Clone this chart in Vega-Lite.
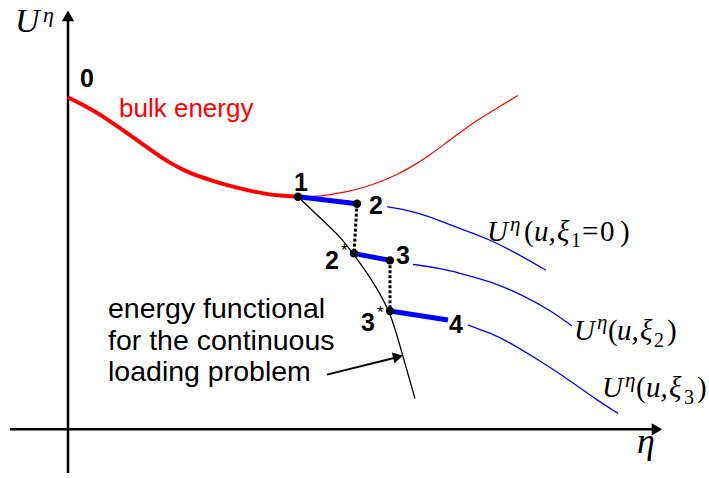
{
  "$schema": "https://vega.github.io/schema/vega-lite/v6.json",
  "width": 709,
  "height": 478,
  "padding": 0,
  "autosize": {"type": "fit", "contains": "padding"},
  "background": "white",
  "config": {"view": {"stroke": null}},
  "datasets": {
    "axes": [
      {"s": "h", "i": 0, "x": 10, "y": 432}, {"s": "h", "i": 1, "x": 655, "y": 432},
      {"s": "v", "i": 0, "x": 68, "y": 476}, {"s": "v", "i": 1, "x": 68, "y": 20}
    ],
    "redThick": [
      {"x": 68, "y": 98}, {"x": 84, "y": 106}, {"x": 100, "y": 115}, {"x": 120, "y": 129}, {"x": 140, "y": 143},
      {"x": 155, "y": 154}, {"x": 170, "y": 164}, {"x": 185, "y": 172}, {"x": 200, "y": 178}, {"x": 216, "y": 183},
      {"x": 233, "y": 188}, {"x": 250, "y": 192}, {"x": 265, "y": 195}, {"x": 280, "y": 197}, {"x": 298, "y": 198}
    ],
    "redThin": [
      {"x": 298, "y": 198}, {"x": 313, "y": 198}, {"x": 330, "y": 196}, {"x": 347, "y": 193}, {"x": 363, "y": 189},
      {"x": 380, "y": 183}, {"x": 397, "y": 176}, {"x": 413, "y": 167}, {"x": 430, "y": 156}, {"x": 447, "y": 143},
      {"x": 463, "y": 131}, {"x": 480, "y": 119}, {"x": 500, "y": 107}, {"x": 518, "y": 96}
    ],
    "blueThin": [
      {"s": "A", "x": 387, "y": 208}, {"s": "A", "x": 400, "y": 210}, {"s": "A", "x": 420, "y": 215}, {"s": "A", "x": 440, "y": 222},
      {"s": "A", "x": 460, "y": 230}, {"s": "A", "x": 490, "y": 241}, {"s": "A", "x": 517, "y": 255}, {"s": "A", "x": 546, "y": 272},
      {"s": "B", "x": 413, "y": 266}, {"s": "B", "x": 440, "y": 270}, {"s": "B", "x": 460, "y": 275}, {"s": "B", "x": 490, "y": 283},
      {"s": "B", "x": 523, "y": 297}, {"s": "B", "x": 550, "y": 312}, {"s": "B", "x": 572, "y": 328},
      {"s": "C", "x": 468, "y": 327}, {"s": "C", "x": 490, "y": 335}, {"s": "C", "x": 507, "y": 343}, {"s": "C", "x": 540, "y": 363},
      {"s": "C", "x": 573, "y": 385}, {"s": "C", "x": 593, "y": 400}, {"s": "C", "x": 618, "y": 416}
    ],
    "blueThick": [
      {"s": "a", "x": 298, "y": 198}, {"s": "a", "x": 357, "y": 205},
      {"s": "b", "x": 353, "y": 255}, {"s": "b", "x": 390, "y": 262},
      {"s": "c", "x": 390, "y": 313}, {"s": "c", "x": 448, "y": 322}
    ],
    "dotted": [
      {"s": "a", "i": 0, "x": 357, "y": 205}, {"s": "a", "i": 1, "x": 354, "y": 255},
      {"s": "b", "i": 0, "x": 390, "y": 262}, {"s": "b", "i": 1, "x": 390, "y": 313}
    ],
    "blackCurve": [
      {"i": 0, "x": 298, "y": 198}, {"i": 1, "x": 323, "y": 222}, {"i": 2, "x": 340, "y": 238}, {"i": 3, "x": 353, "y": 255},
      {"i": 4, "x": 373, "y": 283}, {"i": 5, "x": 390, "y": 313}, {"i": 6, "x": 400, "y": 348}, {"i": 7, "x": 407, "y": 373},
      {"i": 8, "x": 415, "y": 401}
    ],
    "arrowLine": [{"x": 327, "y": 377}, {"x": 395, "y": 360}],
    "nodes": [
      {"x": 298, "y": 198}, {"x": 357, "y": 205}, {"x": 354, "y": 255}, {"x": 390, "y": 262}, {"x": 390, "y": 313}
    ],
    "headRight": [{"x": 657, "y": 432}],
    "headUp": [{"x": 68, "y": 16}],
    "headAnno": [{"x": 398, "y": 359}],
    "boldLabels": [
      {"t": "0", "x": 80, "y": 88}, {"t": "1", "x": 294, "y": 192}, {"t": "2", "x": 369, "y": 215},
      {"t": "2", "x": 325, "y": 271}, {"t": "3", "x": 396, "y": 266}, {"t": "3", "x": 361, "y": 333},
      {"t": "4", "x": 449, "y": 335}
    ],
    "stars": [{"t": "*", "x": 341, "y": 258}, {"t": "*", "x": 377, "y": 320}],
    "bulk": [{"t": "bulk energy", "x": 119, "y": 118}],
    "note": [
      {"t": "energy functional", "x": 108, "y": 320},
      {"t": "for the continuous", "x": 108, "y": 352},
      {"t": "loading problem", "x": 108, "y": 383}
    ],
    "axisU": [{"t": "U", "x": 15, "y": 32}],
    "axisEta": [{"t": "η", "x": 637, "y": 456}],
    "axisEtaSup": [{"t": "η", "x": 43, "y": 22}],
    "mathItalic": [
      {"t": "U", "x": 487, "y": 243}, {"t": "u,", "x": 534, "y": 243}, {"t": "ξ", "x": 557, "y": 243},
      {"t": "U", "x": 574, "y": 342}, {"t": "u,", "x": 617, "y": 342}, {"t": "ξ", "x": 640, "y": 342},
      {"t": "U", "x": 602, "y": 400}, {"t": "u,", "x": 646, "y": 400}, {"t": "ξ", "x": 669, "y": 400}
    ],
    "mathSup": [
      {"t": "η", "x": 510, "y": 232}, {"t": "η", "x": 597, "y": 331}, {"t": "η", "x": 625, "y": 389}
    ],
    "mathUpright": [
      {"t": "(", "x": 524, "y": 243}, {"t": "=", "x": 582, "y": 243}, {"t": "0", "x": 600, "y": 243}, {"t": ")", "x": 620, "y": 243},
      {"t": "(", "x": 608, "y": 342}, {"t": ")", "x": 667, "y": 342},
      {"t": "(", "x": 636, "y": 400}, {"t": ")", "x": 697, "y": 400}
    ],
    "mathSub": [
      {"t": "1", "x": 571, "y": 249}, {"t": "2", "x": 654, "y": 349}, {"t": "3", "x": 684, "y": 407}
    ]
  },
  "encoding": {
    "x": {"field": "x", "type": "quantitative", "scale": {"domain": [0, 709], "nice": false, "zero": false}, "axis": null},
    "y": {"field": "y", "type": "quantitative", "scale": {"domain": [0, 478], "nice": false, "zero": false, "reverse": true}, "axis": null}
  },
  "layer": [
    {"data": {"name": "axes"}, "mark": {"type": "line", "color": "black", "strokeWidth": 2.5},
     "encoding": {"detail": {"field": "s"}, "order": {"field": "i"}}},
    {"data": {"name": "headRight"}, "mark": {"type": "point", "shape": "triangle-right", "filled": true, "color": "black", "size": 150, "opacity": 1}, "encoding": {}},
    {"data": {"name": "headUp"}, "mark": {"type": "point", "shape": "triangle-up", "filled": true, "color": "black", "size": 150, "opacity": 1}, "encoding": {}},
    {"data": {"name": "redThin"}, "mark": {"type": "line", "color": "#ff0000", "strokeWidth": 1.2, "interpolate": "basis"}, "encoding": {}},
    {"data": {"name": "redThick"}, "mark": {"type": "line", "color": "#ff0000", "strokeWidth": 4, "interpolate": "basis"}, "encoding": {}},
    {"data": {"name": "blueThin"}, "mark": {"type": "line", "color": "#0000ff", "strokeWidth": 1.3, "interpolate": "basis"},
     "encoding": {"detail": {"field": "s"}}},
    {"data": {"name": "blackCurve"}, "mark": {"type": "line", "color": "black", "strokeWidth": 1.3, "interpolate": "basis"},
     "encoding": {"order": {"field": "i"}}},
    {"data": {"name": "dotted"}, "mark": {"type": "line", "color": "black", "strokeWidth": 3, "strokeDash": [3, 2]},
     "encoding": {"detail": {"field": "s"}, "order": {"field": "i"}}},
    {"data": {"name": "blueThick"}, "mark": {"type": "line", "color": "#0000ff", "strokeWidth": 5},
     "encoding": {"detail": {"field": "s"}}},
    {"data": {"name": "nodes"}, "mark": {"type": "point", "shape": "circle", "filled": true, "color": "black", "size": 70, "opacity": 1}, "encoding": {}},
    {"data": {"name": "arrowLine"}, "mark": {"type": "line", "color": "black", "strokeWidth": 2}, "encoding": {}},
    {"data": {"name": "headAnno"}, "mark": {"type": "point", "shape": "triangle-right", "filled": true, "color": "black", "size": 130, "angle": 346, "opacity": 1}, "encoding": {}},
    {"data": {"name": "boldLabels"}, "mark": {"type": "text", "font": "Liberation Sans", "fontWeight": "bold", "fontSize": 25, "align": "left", "baseline": "alphabetic", "color": "black"},
     "encoding": {"text": {"field": "t"}}},
    {"data": {"name": "stars"}, "mark": {"type": "text", "font": "Liberation Sans", "fontSize": 17, "align": "left", "baseline": "alphabetic", "color": "black"},
     "encoding": {"text": {"field": "t"}}},
    {"data": {"name": "bulk"}, "mark": {"type": "text", "font": "Liberation Sans", "fontSize": 26, "align": "left", "baseline": "alphabetic", "color": "#ff0000"},
     "encoding": {"text": {"field": "t"}}},
    {"data": {"name": "note"}, "mark": {"type": "text", "font": "Liberation Sans", "fontSize": 28.5, "align": "left", "baseline": "alphabetic", "color": "black"},
     "encoding": {"text": {"field": "t"}}},
    {"data": {"name": "axisU"}, "mark": {"type": "text", "font": "Liberation Serif", "fontStyle": "italic", "fontSize": 34, "align": "left", "baseline": "alphabetic", "color": "black"},
     "encoding": {"text": {"field": "t"}}},
    {"data": {"name": "axisEtaSup"}, "mark": {"type": "text", "font": "Liberation Serif", "fontStyle": "italic", "fontSize": 22, "align": "left", "baseline": "alphabetic", "color": "black"},
     "encoding": {"text": {"field": "t"}}},
    {"data": {"name": "axisEta"}, "mark": {"type": "text", "font": "Liberation Serif", "fontStyle": "italic", "fontSize": 36, "align": "left", "baseline": "alphabetic", "color": "black"},
     "encoding": {"text": {"field": "t"}}},
    {"data": {"name": "mathItalic"}, "mark": {"type": "text", "font": "Liberation Serif", "fontStyle": "italic", "fontSize": 29, "align": "left", "baseline": "alphabetic", "color": "black"},
     "encoding": {"text": {"field": "t"}}},
    {"data": {"name": "mathSup"}, "mark": {"type": "text", "font": "Liberation Serif", "fontStyle": "italic", "fontSize": 21, "align": "left", "baseline": "alphabetic", "color": "black"},
     "encoding": {"text": {"field": "t"}}},
    {"data": {"name": "mathUpright"}, "mark": {"type": "text", "font": "Liberation Serif", "fontSize": 29, "align": "left", "baseline": "alphabetic", "color": "black"},
     "encoding": {"text": {"field": "t"}}},
    {"data": {"name": "mathSub"}, "mark": {"type": "text", "font": "Liberation Serif", "fontSize": 20, "align": "left", "baseline": "alphabetic", "color": "black"},
     "encoding": {"text": {"field": "t"}}}
  ]
}
